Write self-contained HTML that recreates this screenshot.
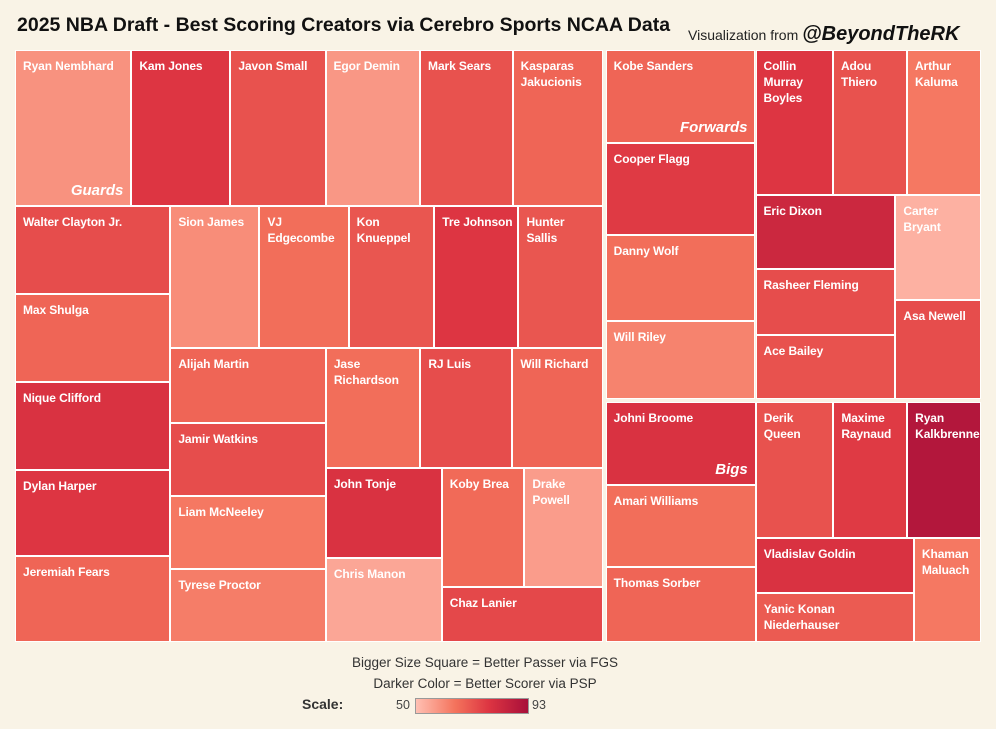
<!DOCTYPE html>
<html><head><meta charset="utf-8"><style>
body{margin:0;background:#f9f3e6;font-family:"Liberation Sans",sans-serif;}
#page{position:relative;width:996px;height:729px;overflow:hidden;background:#f9f3e6;}
.tile{position:absolute;box-sizing:border-box;border:1px solid #fff;color:#fff;font-weight:bold;font-size:12px;letter-spacing:-0.1px;line-height:16px;padding:7px 0 0 7px;overflow:hidden;white-space:pre;}
.glabel{position:absolute;color:#fff;font-weight:bold;font-style:italic;font-size:15px;}
</style></head><body>
<div id="page">
<div style="position:absolute;left:17px;top:14px;font-size:19.5px;font-weight:bold;color:#111;">2025 NBA Draft - Best Scoring Creators via Cerebro Sports NCAA Data</div>
<div style="position:absolute;left:688px;top:23px;font-size:14px;color:#222;white-space:nowrap;">Visualization from <span style="font-size:20px;font-weight:bold;font-style:italic;color:#111;">@BeyondTheRK</span></div>
<div id="tm" style="position:absolute;left:0;top:0;"></div>
<div style="position:absolute;left:0;width:970px;top:655px;text-align:center;font-size:13.5px;color:#333;">Bigger Size Square = Better Passer via FGS</div>
<div style="position:absolute;left:0;width:970px;top:676px;text-align:center;font-size:13.5px;color:#333;">Darker Color = Better Scorer via PSP</div>
<div style="position:absolute;left:302px;top:696px;font-size:14px;font-weight:bold;color:#333;">Scale:</div>
<div style="position:absolute;left:396px;top:698px;font-size:12.5px;color:#444;">50</div>
<div style="position:absolute;left:415px;top:698px;width:112px;height:14px;border:1px solid #999;background:linear-gradient(to right,#ffc0b3,#f4735c 35%,#dd3542 65%,#a80f3a);"></div>
<div style="position:absolute;left:532px;top:698px;font-size:12.5px;color:#444;">93</div>
</div>
<script>
const names=["Ryan Nembhard","Kam Jones","Javon Small","Egor Demin","Mark Sears","Kasparas\nJakucionis",
"Walter Clayton Jr.","Max Shulga","Nique Clifford","Dylan Harper","Jeremiah Fears",
"Sion James","VJ\nEdgecombe","Kon\nKnueppel","Tre Johnson","Hunter\nSallis",
"Alijah Martin","Jamir Watkins","Liam McNeeley","Tyrese Proctor",
"Jase\nRichardson","RJ Luis","Will Richard","John Tonje","Chris Manon","Koby Brea","Drake\nPowell","Chaz Lanier",
"Kobe Sanders","Cooper Flagg","Danny Wolf","Will Riley","Collin\nMurray\nBoyles","Adou\nThiero","Arthur\nKaluma",
"Eric Dixon","Rasheer Fleming","Ace Bailey","Carter\nBryant","Asa Newell",
"Johni Broome","Amari Williams","Thomas Sorber","Derik\nQueen","Maxime\nRaynaud","Ryan\nKalkbrenner",
"Vladislav Goldin","Yanic Konan\nNiederhauser","Khaman\nMaluach"];
const passSize=[181,154,148,147,144,140, 136,136,135,133,133, 126,126,121,119,119, 116,112,113,113,
112,109,107,104,97,98,93,88, 140,137,129,117,112,107,107, 104,92,90,90,85,
125,122,113,105,100,100,87,78,70];
const scoreVal=[59,78,72,58,72,68, 73,68,79,78,68, 60,66,71,78,71, 68,73,64,63,
66,73,68,79,55,67,57,74, 68,77,66,62,78,72,64, 83,73,72,53,73,
79,66,68,72,77,90,79,70,64];
const groupNames=["Guards","Forwards","Bigs"];
const scaleMin=50, scaleMax=93;
const r=(a,b)=>{const o=[];for(let i=a;i<=b;i++)o.push(i);return o;};
const guards={d:'v',k:[{d:'h',k:r(0,5)},{d:'h',k:[{d:'v',k:r(6,10)},{d:'v',k:[{d:'h',k:r(11,15)},{d:'h',k:[{d:'v',k:r(16,19)},{d:'v',k:[{d:'h',k:r(20,22)},{d:'h',k:[{d:'v',k:[23,24]},{d:'v',k:[{d:'h',k:[25,26]},27]}]}]}]}]}]}]};
const forwards={d:'h',k:[{d:'v',k:r(28,31)},{d:'v',k:[{d:'h',k:r(32,34)},{d:'h',k:[{d:'v',k:r(35,37)},{d:'v',k:[38,39]}]}]}]};
const bigs={d:'h',k:[{d:'v',k:r(40,42)},{d:'v',k:[{d:'h',k:r(43,45)},{d:'h',k:[{d:'v',k:[46,47]},48]}]}]};
const stops=[[0,[255,192,179]],[0.35,[244,115,92]],[0.65,[221,53,66]],[1,[168,15,58]]];
function color(v){let t=Math.max(0,Math.min(1,(v-scaleMin)/(scaleMax-scaleMin)));
for(let i=1;i<stops.length;i++){if(t<=stops[i][0]){const a=stops[i-1],b=stops[i],f=(t-a[0])/(b[0]-a[0]);
return 'rgb('+a[1].map((c,j)=>Math.round(c+(b[1][j]-c)*f)).join(',')+')';}}return 'rgb(168,15,58)';}
function sz(n){return typeof n==='number'?passSize[n]:n.k.reduce((s,c)=>s+sz(c),0);}
const tm=document.getElementById('tm');
function lay(n,x,y,w,h){
if(typeof n==='number'){const el=document.createElement('div');el.className='tile';


el.style.cssText+=`left:${x}px;top:${y}px;width:${w}px;height:${h}px;background:${color(scoreVal[n])};`;
el.textContent=names[n];tm.appendChild(el);return [x,y,w,h];}
const tot=sz(n);let off=0,first=null;
n.k.forEach(c=>{const f=sz(c)/tot;let res;
if(n.d==='h'){const cw=w*f;res=lay(c,x+off,y,cw,h);off+=cw;}else{const ch=h*f;res=lay(c,x,y+off,w,ch);off+=ch;}
if(!first)first=res;});return first;}
function group(node,gi,x,y,w,h){const f=lay(node,x,y,w,h);
const g=document.createElement('div');g.className='glabel';


g.style.left=(f[0])+'px';g.style.width=(f[2]-8)+'px';g.style.textAlign='right';g.style.top=(f[1]+f[3]-24)+'px';
g.textContent=groupNames[gi];tm.appendChild(g);}
const X0=15,Y0=50,X1=981,Y1=642,G=3;
const tg=sz(guards),tf=sz(forwards),tb=sz(bigs);
const gw=(X1-X0-G)*tg/(tg+tf+tb);
group(guards,0,X0,Y0,gw,Y1-Y0);
const rx=X0+gw+G,rw=X1-rx,fh=(Y1-Y0-G)*tf/(tf+tb);
group(forwards,1,rx,Y0,rw,fh);
group(bigs,2,rx,Y0+fh+G,rw,Y1-Y0-fh-G);
</script>
</body></html>
